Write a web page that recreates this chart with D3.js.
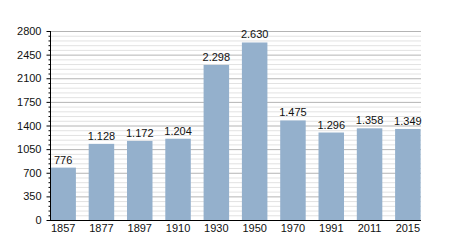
<!DOCTYPE html>
<html><head><meta charset="utf-8">
<script src="https://cdn.jsdelivr.net/npm/d3@7"></script>
<style>body{margin:0;background:#fff}svg{display:block}text{font-family:"Liberation Sans",Arial,sans-serif}</style>
</head><body><svg id="c" width="450" height="250"></svg>
<script>
const years = ["1857","1877","1897","1910","1930","1950","1970","1991","2011","2015"];
const population = [776,1128,1172,1204,2298,2630,1475,1296,1358,1349];
const yTicks = [0,350,700,1050,1400,1750,2100,2450,2800];

(function(){
const svg = d3.select("#c");
const mLeft = 50, mRight = 421, mTop = 31, mBottom = 220;
const x = d3.scaleBand().domain(years).range([mLeft, mRight]).paddingInner(0.334).paddingOuter(0.01);
const y = d3.scaleLinear().domain([0, 2800]).range([mBottom, mTop]);

const minor = d3.range(0, 2801, 70).filter(v => v % 350 !== 0);
svg.append("g").selectAll("line").data(minor).join("line")
  .attr("x1", mLeft).attr("x2", mRight).attr("y1", d => y(d)+0.5).attr("y2", d => y(d)+0.5)
  .attr("stroke", "#e2e2e2").attr("stroke-width", 1);
svg.append("g").selectAll("line").data(yTicks.filter(v=>v>0)).join("line")
  .attr("x1", mLeft).attr("x2", mRight).attr("y1", d => y(d)+0.5).attr("y2", d => y(d)+0.5)
  .attr("stroke", "#b4b4b4").attr("stroke-width", 1);

svg.append("g").selectAll("rect").data(population).join("rect")
  .attr("x", (d,i) => x(years[i])).attr("width", x.bandwidth())
  .attr("y", d => y(d)).attr("height", d => mBottom - y(d))
  .attr("fill", "#94b0cc");

const fmt = v => v >= 1000 ? d3.format(",")(v).replace(/,/g, ".") : String(v);
svg.append("g").selectAll("text").data(population).join("text")
  .attr("x", (d,i) => x(years[i]) + x.bandwidth()/2).attr("y", d => y(d) - 4)
  .attr("text-anchor", "middle").attr("font-size", 11).attr("fill", "#111")
  .text(fmt);

const ya = svg.append("g").attr("transform", `translate(${mLeft+0.5},0)`)
  .call(d3.axisLeft(y).tickValues(yTicks).tickSize(4).tickFormat(d3.format("d")));
ya.select(".domain").remove();
ya.selectAll("text").attr("font-size", 11).attr("fill", "#111").attr("x", -9);
ya.selectAll("line").attr("stroke", "#000");
svg.append("g").attr("transform", `translate(${mLeft+0.5},0)`).selectAll("line").data(minor).join("line")
  .attr("x1", -2).attr("x2", 0).attr("y1", d => y(d)+0.5).attr("y2", d => y(d)+0.5).attr("stroke", "#000");
svg.append("line").attr("x1", mLeft+0.5).attr("x2", mLeft+0.5).attr("y1", mTop).attr("y2", mBottom).attr("stroke", "#000");

const xa = svg.append("g").attr("transform", `translate(0,${mBottom})`)
  .call(d3.axisBottom(x).tickSize(0).tickPadding(4));
xa.select(".domain").attr("d", `M${mLeft},0.5H${mRight}`).attr("stroke", "#000");
xa.selectAll("text").attr("font-size", 11).attr("fill", "#111");
})();
</script></body></html>
